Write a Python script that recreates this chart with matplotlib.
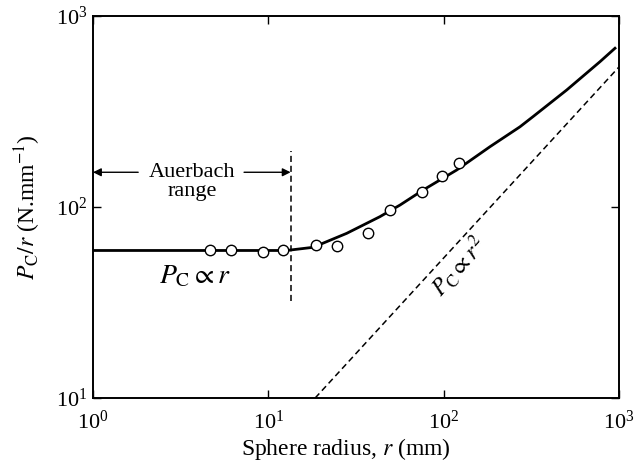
import numpy as np
import matplotlib.pyplot as plt

# Measured points (sphere radius, P_C / r)
r_data = [4.65, 6.12, 9.33, 12.1, 18.7, 24.6, 37.0, 49.4, 75.2, 97.8, 122]
p_data = [59.2, 59.2, 58.4, 59.2, 63.3, 62.8, 73.1, 96.4, 120.3, 145.8, 170.6]

# Fitted curve
r_fit = [1.0, 5.0, 12.1, 13.3, 18.0, 28.0, 43.3, 56.4, 76.5, 118.7, 183.8,
         272.5, 324.5, 503.5, 779.4, 949]
p_fit = [59.2, 59.2, 59.2, 59.5, 61.5, 72.8, 89.0, 102.4, 122.8, 156.2, 206.9,
         263.0, 298.0, 409.9, 576.6, 678]

# P_C ∝ r^2 line (i.e. P_C/r ∝ r)
r_sq = [18.5, 1000]
p_sq = [10, 541]

# Auerbach range boundary
r_auer = 13.4
auer_lo, auer_hi = 32.2, 196
arrow_y = 152

plt.rcParams['font.family'] = ['Liberation Serif', 'DejaVu Serif']
plt.rcParams['mathtext.fontset'] = 'stix'

fig = plt.figure(figsize=(6.34, 4.68), dpi=100)
ax = fig.add_axes([0.1467, 0.1496, 0.8296, 0.8162])

ax.plot(r_fit, p_fit, color='black', lw=2.0, zorder=2)
ax.plot(r_data, p_data, 'o', ms=7.5, mfc='white', mec='black', mew=1.0, zorder=3)
ax.plot(r_sq, p_sq, color='black', lw=1.1, ls=(0, (4, 2.5)))
ax.plot([r_auer, r_auer], [auer_lo, auer_hi], color='black', lw=1.1, ls=(0, (4, 2.5)))

# Auerbach range arrows (either side of the label)
arrow = dict(arrowstyle='-|>', color='black', lw=1.0, mutation_scale=12,
             shrinkA=0, shrinkB=0)
ax.annotate('', xy=(1.0, arrow_y), xytext=(1.81, arrow_y), arrowprops=arrow)
ax.annotate('', xy=(r_auer, arrow_y), xytext=(7.27, arrow_y), arrowprops=arrow)
ax.text(3.69, arrow_y, 'Auerbach', ha='center', va='center', fontsize=16)
ax.text(3.69, 120, 'range', ha='center', va='center', fontsize=16)

ax.text(3.8, 43, r'$P_{\rm C} \propto r$', ha='center', va='center', fontsize=20)
ax.text(122, 49, r'$P_{\rm C} \propto r^2$', ha='center', va='center', fontsize=17,
        rotation=48)

ax.set_xscale('log')
ax.set_yscale('log')
ax.set_xlim(1, 1000)
ax.set_ylim(10, 1000)
ax.minorticks_off()
ax.tick_params(which='major', direction='in', length=6, width=1.0,
               top=True, right=True, labelsize=16)
ax.tick_params(axis='x', pad=9)
ax.tick_params(axis='y', pad=4)
for s in ax.spines.values():
    s.set_linewidth(1.4)

ax.set_xlabel('Sphere radius, $r$ (mm)', fontsize=17, labelpad=6)
ax.xaxis.set_label_coords(0.48, -0.1)
ax.xaxis.label.set_va('top')
ax.set_ylabel(r'$P_{\rm C}/r$ (N.mm$^{-1}$)', fontsize=17, labelpad=9)

fig.savefig('out.png', dpi=100)
